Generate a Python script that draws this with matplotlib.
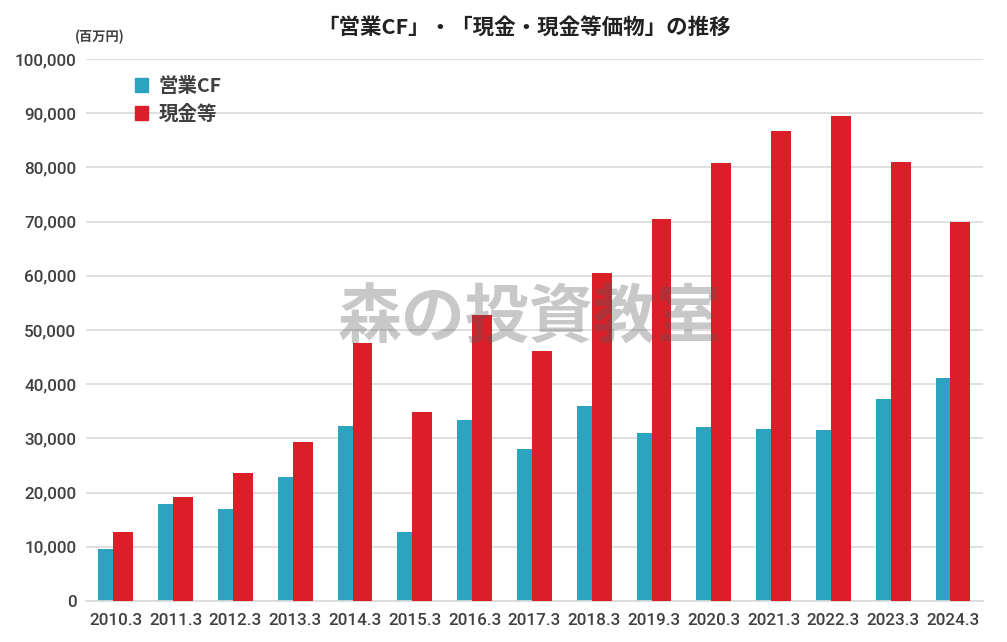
import numpy as np
import matplotlib
matplotlib.use("Agg")
import matplotlib.pyplot as plt
from matplotlib.patches import Patch

plt.rcParams['font.family'] = ['Noto Sans CJK JP', 'DejaVu Sans']

years = ['2010.3', '2011.3', '2012.3', '2013.3', '2014.3', '2015.3', '2016.3', '2017.3',
         '2018.3', '2019.3', '2020.3', '2021.3', '2022.3', '2023.3', '2024.3']
cf = [9600, 17900, 17000, 22900, 32300, 12700, 33400, 28000,
      36000, 31000, 32100, 31700, 31500, 37300, 41100]
cash = [12700, 19200, 23600, 29300, 47600, 34900, 52800, 46100,
        60600, 70500, 80900, 86700, 89500, 81000, 69900]

c_cf = '#2ca3bf'
c_cash = '#db1f29'
txt = '#404040'
num_font = ['Roboto', 'Liberation Sans', 'DejaVu Sans']

fig = plt.figure(figsize=(10.07, 6.42), dpi=100)
ax = fig.add_axes([0.0854, 0.0639, 0.8906, 0.8441])

x = np.arange(len(years))
w = 0.333
ax.bar(x - 0.125, cf, w, color=c_cf, zorder=2)
ax.bar(x + 0.125, cash, w, color=c_cash, zorder=3)

ax.set_xlim(-0.5, len(years) - 0.5)
ax.set_ylim(0, 100000)
ax.set_yticks(np.arange(0, 100001, 10000))
ax.set_yticklabels([f'{v:,}' for v in range(0, 100001, 10000)],
                   fontsize=12.3, color=txt, family=num_font, fontweight='medium')
ax.set_xticks(x)
ax.set_xticklabels(years, fontsize=12.3, color=txt, family=num_font, fontweight='medium')
ax.tick_params(length=0, pad=9)
ax.tick_params(axis='y', pad=7)
ax.grid(axis='y', color='#d9d9d9', linewidth=1.2, zorder=0)
for s in ['top', 'right', 'left']:
    ax.spines[s].set_visible(False)
ax.spines['bottom'].set_color('#d9d9d9')
ax.spines['bottom'].set_linewidth(1.2)

fig.text(0.52, 0.958, '「営業CF」・「現金・現金等価物」の推移', ha='center', va='center',
         fontsize=15.5, fontweight='bold', color='#222222')
fig.text(0.099, 0.942, '(百万円)', ha='center', va='center', fontsize=9.5,
         fontweight='bold', color=txt)

handles = [Patch(color=c_cf), Patch(color=c_cash)]
leg = ax.legend(handles, ['営業CF', '現金等'], loc='upper left', bbox_to_anchor=(0.035, 1.0),
                frameon=False, fontsize=14, handlelength=0.7, handleheight=0.7,
                handletextpad=0.5, labelspacing=0.45)
for t in leg.get_texts():
    t.set_color(txt)
    t.set_fontweight('bold')

fig.text(0.525, 0.503, '森の投資教室', ha='center', va='center', fontsize=46,
         fontweight='bold', color='#585858', alpha=0.33, zorder=10)

fig.savefig('out.png', dpi=100, facecolor='white')
